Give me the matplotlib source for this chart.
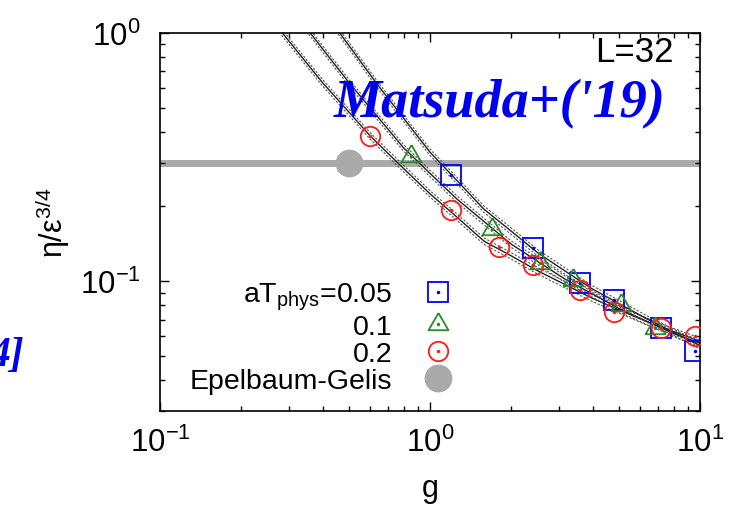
import matplotlib
matplotlib.use('Agg')
import matplotlib.pyplot as plt
from matplotlib.lines import Line2D
from matplotlib.legend_handler import HandlerTuple

plt.rcParams['font.family'] = ['Liberation Sans', 'DejaVu Sans']
plt.rcParams['mathtext.fontset'] = 'custom'
plt.rcParams['mathtext.rm'] = 'Liberation Sans'
plt.rcParams['mathtext.it'] = 'Liberation Sans:italic'
plt.rcParams['mathtext.bf'] = 'Liberation Sans:bold'
plt.rcParams['axes.unicode_minus'] = False

# ---------------- data ----------------
g_005 = [1.2, 2.4, 3.6, 4.8, 7.2, 9.6]
eta_005 = [0.269, 0.136, 0.098, 0.084, 0.065, 0.0525]

g_01 = [0.85, 1.7, 2.55, 3.4, 5.1, 6.8]
eta_01 = [0.319, 0.162, 0.118, 0.101, 0.080, 0.0645]

g_02 = [0.6, 1.2, 1.8, 2.4, 3.6, 4.8, 7.2, 9.6]
eta_02 = [0.386, 0.193, 0.137, 0.116, 0.092, 0.075, 0.065, 0.060]

g_eg = [0.5]
eta_eg = [0.3]

# fit curves
fit_g_02 = [0.282, 0.398, 0.603, 0.794, 1.0, 1.26, 1.585, 2.0, 2.51, 3.16, 3.98, 5.01, 6.31, 7.94, 10]
fit_02 = [1.01, 0.635, 0.383, 0.286, 0.225, 0.181, 0.145, 0.1265, 0.110, 0.097, 0.0855, 0.0767, 0.0689, 0.0628, 0.0573]

fit_g_01 = [0.355, 0.501, 0.631, 0.794, 1.0, 1.26, 1.585, 2.0, 2.51, 3.16, 3.98, 5.01, 6.31, 7.94, 10]
fit_01 = [1.02, 0.631, 0.468, 0.347, 0.272, 0.214, 0.174, 0.141, 0.120, 0.102, 0.0891, 0.0776, 0.0692, 0.0617, 0.0562]

fit_g_005 = [0.457, 0.631, 0.794, 1.0, 1.26, 1.585, 2.0, 2.51, 3.16, 3.98, 5.01, 6.31, 7.94, 10]
fit_005 = [1.02, 0.631, 0.457, 0.331, 0.254, 0.195, 0.159, 0.130, 0.110, 0.0933, 0.0813, 0.0708, 0.0624, 0.055]

fit_band = [0.03, 0.03, 0.03]   # relative half-width of the fit error bands

legend_labels = [r"aT$_{\mathrm{phys}}$=0.05", "0.1", "0.2", "Epelbaum-Gelis"]
x_ticks = [0.1, 1, 10]
y_ticks = [0.1, 1]

# ---------------- figure ----------------
fig = plt.figure(figsize=(7.3, 5.06), dpi=100)
ax = fig.add_axes([160 / 730, 94 / 506, 540 / 730, 378 / 506])
ax.set_xscale('log')
ax.set_yscale('log')
ax.set_xlim(0.1, 10)
ax.set_ylim(0.03, 1.0)

# Epelbaum-Gelis horizontal band
ax.axhline(eta_eg[0], color='#aaaaaa', lw=5, zorder=1)

# fit curves with dashed error bands
for fg, fv, b in [(fit_g_02, fit_02, fit_band[0]), (fit_g_01, fit_01, fit_band[1]),
                  (fit_g_005, fit_005, fit_band[2])]:
    ax.plot(fg, fv, color='#222222', lw=1.0, zorder=2)
    ax.plot(fg, [v * (1 + b) for v in fv], color='#555555', lw=0.8, dashes=(2, 1.5), zorder=2)
    ax.plot(fg, [v * (1 - b) for v in fv], color='#555555', lw=0.8, dashes=(2, 1.5), zorder=2)

tri = [(0, 1.155), (-1, -0.577), (1, -0.577), (0, 1.155)]

blue = '#0000ff'
green = '#2a8a2a'
red = '#ff1a1a'
grey = '#aaaaaa'

sq_kw = dict(ls='none', marker='s', ms=14, mfc='none', mec=blue, mew=1.3)
tr_kw = dict(ls='none', marker=tri, ms=16.5, mfc='none', mec=green, mew=1.3)
ci_kw = dict(ls='none', marker='o', ms=14, mfc='none', mec=red, mew=1.3)
eg_kw = dict(ls='none', marker='o', ms=19, mfc=grey, mec=grey)

ax.plot(g_005, eta_005, zorder=4, **sq_kw)
ax.plot(g_005, eta_005, ls='none', marker='o', ms=1.5, color=blue, zorder=4)
ax.plot(g_01, eta_01, zorder=4, **tr_kw)
ax.plot(g_01, eta_01, ls='none', marker='o', ms=1.5, color=green, zorder=4)
ax.plot(g_02, eta_02, zorder=4, **ci_kw)
ax.plot(g_02, eta_02, ls='none', marker='o', ms=1.5, color=red, zorder=4)
ax.plot(g_eg, eta_eg, zorder=3, **eg_kw)

# ticks
ax.set_xticks(x_ticks)
ax.set_yticks(y_ticks)
ax.tick_params(which='both', direction='in', top=True, right=True)
ax.tick_params(which='major', length=6.5, width=1.0, labelsize=22.5, pad=14)
ax.tick_params(which='minor', length=3.5, width=1.0)
ax.tick_params(axis='x', which='major', pad=11)
for s in ax.spines.values():
    s.set_linewidth(1.2)

ax.set_xlabel('g', fontsize=22)
ax.xaxis.set_label_coords(0.5, -0.165)
ax.set_ylabel(r"η/ε$^{3/4}$", fontsize=22)
ax.yaxis.set_label_coords(-0.163, 0.5)

# legend
handles = [
    (Line2D([], [], **sq_kw), Line2D([], [], ls='none', marker='o', ms=1.5, color=blue)),
    (Line2D([], [], **tr_kw), Line2D([], [], ls='none', marker='o', ms=1.5, color=green)),
    (Line2D([], [], **ci_kw), Line2D([], [], ls='none', marker='o', ms=1.5, color=red)),
    Line2D([], [], **eg_kw),
]
ax.legend(handles, legend_labels, loc='lower right', bbox_to_anchor=(0.5407, 0.044),
          markerfirst=False, frameon=False, fontsize=20.5, handlelength=1.0,
          handletextpad=1.1, labelspacing=0.05, borderpad=0, borderaxespad=0,
          handler_map={tuple: HandlerTuple(ndivide=1)})

# annotations
fig.text(674 / 730, 1 - 35.5 / 506, 'L=32', ha='right', va='top', fontsize=25)
fig.text(334 / 730, 1 - 117 / 506, "Matsuda+('19)", color='#0000ee', fontsize=39,
         family='Liberation Serif', weight='bold', style='italic', ha='left', va='baseline')
fig.text(24 / 730, 1 - 366 / 506, "4]", color='#0000ee', fontsize=30,
         family='Liberation Serif', weight='bold', style='italic', ha='right', va='baseline')

fig.savefig('out.png', dpi=100)
